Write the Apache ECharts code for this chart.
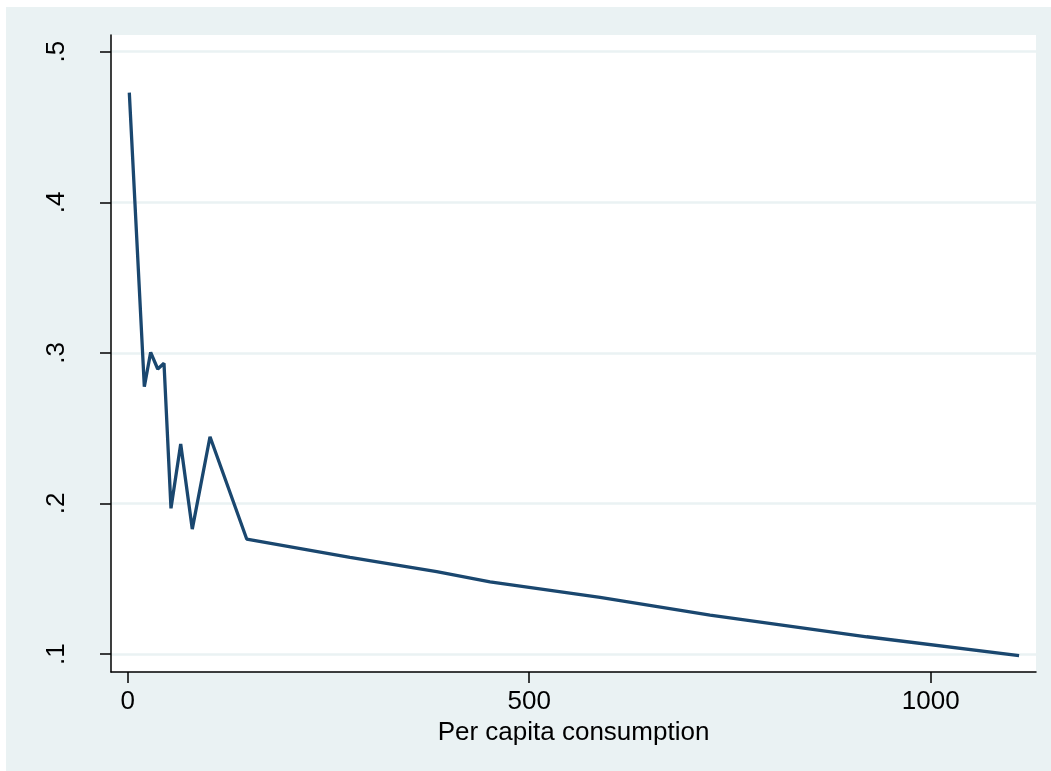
<!DOCTYPE html>
<html>
<head>
<meta charset="utf-8">
<script src="https://cdn.jsdelivr.net/npm/echarts@6/dist/echarts.min.js"></script>
<style>
html,body{margin:0;padding:0;background:#fff;}
#chart{width:1051px;height:771px;}
</style>
</head>
<body>
<div id="chart"></div>
<script>
// Data
const consumption = [2, 20.7, 28.6, 37.4, 45.2, 53.9, 66, 80.4, 102.5, 148.2, 276.8, 384.8, 451.2, 588.2, 725.2, 920.3, 1110];
const share = [0.4728, 0.2775, 0.3004, 0.2893, 0.2931, 0.1968, 0.2395, 0.183, 0.2443, 0.1764, 0.1642, 0.1547, 0.148, 0.1377, 0.1259, 0.1115, 0.0989];
const xTicks = [0, 500, 1000];
const yTicks = [0.1, 0.2, 0.3, 0.4, 0.5];
const xTitle = 'Per capita consumption';

const points = consumption.map((x, i) => [x, share[i]]);
const font = "'Liberation Sans', Arial, sans-serif";

const chart = echarts.init(document.getElementById('chart'));
chart.setOption({
  animation: false,
  backgroundColor: '#ffffff',
  graphic: [{
    type: 'rect', z: -10, silent: true,
    shape: { x: 6, y: 7, width: 1045, height: 764 },
    style: { fill: '#EAF2F3' }
  }],
  grid: {
    left: 111, right: 15, top: 35, bottom: 99,
    show: true, backgroundColor: '#ffffff', borderWidth: 0
  },
  xAxis: {
    type: 'value',
    min: -20.8, max: 1131.1,
    name: xTitle,
    nameLocation: 'middle',
    nameGap: 45,
    nameTextStyle: { fontFamily: font, fontSize: 26, color: '#000' },
    axisLine: { show: true, onZero: false, lineStyle: { color: '#000', width: 1.5 } },
    axisTick: { show: true, length: 11, customValues: xTicks, lineStyle: { color: '#000', width: 1.5 } },
    axisLabel: { customValues: xTicks, fontFamily: font, fontSize: 26, color: '#000', margin: 17,
      formatter: v => String(Math.round(v)) },
    splitLine: { show: false }
  },
  yAxis: {
    type: 'value',
    min: 0.0881, max: 0.5111,
    axisLine: { show: true, onZero: false, lineStyle: { color: '#000', width: 1.5 } },
    axisTick: { show: true, length: 11, customValues: yTicks, lineStyle: { color: '#000', width: 1.5 } },
    axisLabel: {
      customValues: yTicks, rotate: 90, fontFamily: font, fontSize: 26, color: '#000', margin: 41,
      formatter: v => v.toFixed(1).replace(/^0/, '')
    },
    splitLine: { show: true, customValues: yTicks, lineStyle: { color: '#EAF2F3', width: 2.5 } }
  },
  series: [{
    type: 'line',
    data: points,
    showSymbol: false,
    symbol: 'none',
    lineStyle: { color: '#1A476F', width: 3.3 },
    z: 5
  }]
});
</script>
</body>
</html>
